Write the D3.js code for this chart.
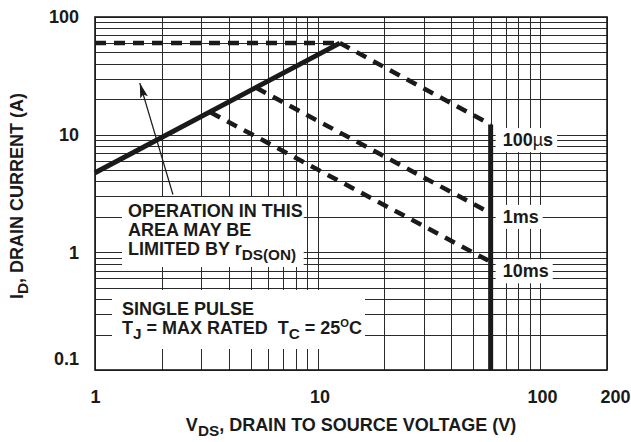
<!DOCTYPE html>
<html lang="en">
<head>
<meta charset="UTF-8" />
<title>Safe operating area</title>
<script src="https://cdn.jsdelivr.net/npm/d3@7"></script>
<style>
  body { margin: 0; background: #fff; }
  text { font-family: "Liberation Sans", Arial, Helvetica, sans-serif; font-weight: bold; fill: #1a1a1a; white-space: pre; }
</style>
</head>
<body>
<svg id="vis" width="631" height="442"></svg>
<script>
// axis labels
var xTicks = [1, 10, 100, 200];
var yTicks = [0.1, 1, 10, 100];

// boundaries, [V, A]
var currentLimit = [[1, 60], [12.6, 60]];
var rdsLimit = [[1, 4.75], [12.6, 60]];
var pulse100us = [[12.6, 60], [60, 12.2]];
var pulse1ms = [[5.3, 25], [60, 2.15]];
var pulse10ms = [[3.3, 15.5], [60, 0.83]];
var voltageLimit = [[60, 0.1], [60, 12.2]];

// pulse names and the current where each label sits
var pulseNames = ["100µs", "1ms", "10ms"];
var pulseLabelAt = [9, 2, 0.69];

// arrow: tail then tip
var arrowPts = [[2.24, 3.1], [1.59, 27.5]];

var svg = d3.select("#vis");

var x = d3.scaleLog().domain([1, 200]).range([95, 607]);
var y = d3.scaleLog().domain([0.1, 100]).range([370, 17]);

var px = function (v) { return Math.round(v) + 0.5; };

// layers
var gGrid = svg.append("g").attr("stroke", "#2a2a2a").attr("stroke-width", 1);
var gBoxes = svg.append("g").attr("fill", "#fff");
var gCurves = svg.append("g").attr("fill", "none").attr("stroke", "#1a1a1a");
var gFrame = svg.append("g");
var gText = svg.append("g");

// grid
gGrid.selectAll(".v").data(x.ticks()).join("line")
	.attr("x1", d => px(x(d))).attr("x2", d => px(x(d)))
	.attr("y1", y(100)).attr("y2", y(0.1));
gGrid.selectAll(".h").data(y.ticks()).join("line")
	.attr("y1", d => px(y(d))).attr("y2", d => px(y(d)))
	.attr("x1", x(1)).attr("x2", x(200));

// curves
var line = d3.line().x(d => x(d[0])).y(d => y(d[1]));

gCurves.append("path").attr("d", line(rdsLimit)).attr("stroke-width", 5);
gCurves.append("path").attr("d", line(voltageLimit)).attr("stroke-width", 5);
[currentLimit, pulse100us, pulse1ms, pulse10ms].forEach(function (c) {
	gCurves.append("path").attr("d", line(c))
		.attr("stroke-width", 4.5)
		.attr("stroke-dasharray", "11,8");
});

// frame
gFrame.append("rect")
	.attr("x", x(1)).attr("y", y(100))
	.attr("width", x(200) - x(1)).attr("height", y(0.1) - y(100))
	.attr("fill", "none").attr("stroke", "#1a1a1a").attr("stroke-width", 1.6);

// rich text helper: parts = [[str, "sub"|"sup"|undefined], ...]
function richText(t, parts, size) {
	var shift = 0;
	parts.forEach(function (p) {
		var s = p[1] === "sub" ? 5 : p[1] === "sup" ? -7 : 0;
		t.append("tspan").text(p[0])
			.attr("dy", s - shift)
			.attr("font-size", p[1] === "sup" ? size * 0.62 : p[1] ? size * 0.85 : size);
		shift = s;
	});
	return t;
}

function addBox(node, pad) {
	var b = node.getBBox();
	gBoxes.append("rect")
		.attr("x", b.x - pad[3]).attr("y", b.y - pad[0])
		.attr("width", b.width + pad[1] + pad[3])
		.attr("height", b.height + pad[0] + pad[2]);
}

// notes
var notes = [
	{ x: 128, y: 217, pad: [4, 1, 4, 6], lines: [
		[["OPERATION IN THIS"]],
		[["AREA MAY BE"]],
		[["LIMITED BY r"], ["DS(ON)", "sub"]]
	] },
	{ x: 122, y: 315, pad: [9, 3, 7, 10], lines: [
		[["SINGLE PULSE"]],
		[["T"], ["J", "sub"], [" = MAX RATED  T"], ["C", "sub"], [" = 25"], ["O", "sup"], ["C"]]
	] }
];
notes.forEach(function (n) {
	var g = gText.append("g");
	n.lines.forEach(function (l, i) {
		richText(g.append("text").attr("x", n.x).attr("y", n.y + i * 19), l, 18);
	});
	addBox(g.node(), n.pad);
});

// pulse labels
pulseNames.forEach(function (name, i) {
	var t = gText.append("text")
		.attr("x", x(60) + 12).attr("y", y(pulseLabelAt[i]) + 6)
		.attr("font-size", 18);
	if (name.indexOf("µ") >= 0) {
		t.append("tspan").text(name.replace("µs", ""));
		t.append("tspan").text("µ").attr("font-weight", "normal");
		t.append("tspan").text("s");
	} else {
		t.text(name);
	}
	addBox(t.node(), [2, 4, 2, 7]);
});

// arrow
var defs = svg.append("defs");
defs.append("marker").attr("id", "ah")
	.attr("markerUnits", "userSpaceOnUse")
	.attr("markerWidth", 16).attr("markerHeight", 10)
	.attr("refX", 15).attr("refY", 5).attr("orient", "auto")
	.append("path").attr("d", "M0,1 L15,5 L0,9 L3,5 Z").attr("fill", "#1a1a1a");
gText.append("line")
	.attr("x1", x(arrowPts[0][0])).attr("y1", y(arrowPts[0][1]))
	.attr("x2", x(arrowPts[1][0])).attr("y2", y(arrowPts[1][1]))
	.attr("stroke", "#1a1a1a").attr("stroke-width", 1.2)
	.attr("marker-end", "url(#ah)");

// axes
var gx = svg.append("g").attr("transform", "translate(0,370)")
	.call(d3.axisBottom(x).tickValues(xTicks).tickFormat(d => String(d)).tickSize(0).tickPadding(20));
gx.select(".domain").remove();
gx.attr("font-size", 18).attr("font-family", null);
gx.selectAll("text").attr("dx", d => d === 200 ? 8 : d === 1 ? 0 : 2);

var gy = svg.append("g").attr("transform", "translate(95,0)")
	.call(d3.axisLeft(y).tickValues(yTicks).tickFormat(d => String(d)).tickSize(0).tickPadding(16));
gy.select(".domain").remove();
gy.attr("font-size", 18).attr("font-family", null);
gy.selectAll("text").filter(d => d === 0.1).attr("dy", "-0.3em");

// titles
richText(svg.append("text").attr("x", 351).attr("y", 431).attr("text-anchor", "middle"),
	[["V"], ["DS", "sub"], [", DRAIN TO SOURCE VOLTAGE (V)"]], 18);
richText(svg.append("text").attr("transform", "translate(23,196) rotate(-90)").attr("text-anchor", "middle"),
	[["I"], ["D", "sub"], [", DRAIN CURRENT (A)"]], 18);
</script>
</body>
</html>
